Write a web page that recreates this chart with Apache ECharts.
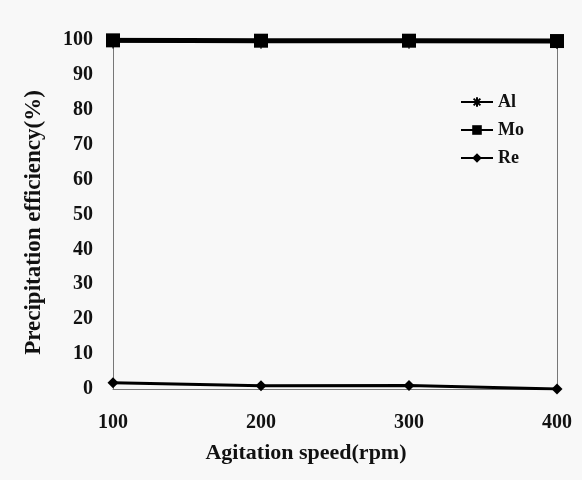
<!DOCTYPE html>
<html>
<head>
<meta charset="utf-8">
<script src="https://cdn.jsdelivr.net/npm/echarts@6/dist/echarts.min.js"></script>
<style>
  html, body { margin: 0; padding: 0; background: #f8f8f8; }
  #chart { width: 582px; height: 480px; }
</style>
</head>
<body>
<div id="chart"></div>
<script>
// Agitation speed (rpm) on the x axis
const speeds = [100, 200, 300, 400];
// Precipitation efficiency (%) per metal
const alValues = [99.6, 99.5, 99.5, 99.4];
const moValues = [99.9, 99.8, 99.8, 99.7];
const reValues = [1.8, 0.9, 1.0, 0.0];
const yTicks = [0, 10, 20, 30, 40, 50, 60, 70, 80, 90, 100];

const serif = '"Liberation Serif", "Times New Roman", serif';
const pairs = vals => speeds.map((s, i) => [s, vals[i]]);

// Asterisk marker outline for Al
const asterisk = 'path://M0,5 L10,5 M5,0 L5,10 M1.5,1.5 L8.5,8.5 M8.5,1.5 L1.5,8.5';

const chart = echarts.init(document.getElementById('chart'));
chart.setOption({
  backgroundColor: '#f8f8f8',
  animation: false,
  grid: { left: 113, right: 25, top: 40, bottom: 91 },
  legend: {
    orient: 'vertical',
    left: 455,
    top: 88,
    itemWidth: 32,
    itemHeight: 12,
    itemGap: 10,
    textStyle: { fontFamily: serif, fontWeight: 'bold', fontSize: 18, color: '#111' },
    data: ['Al', 'Mo', 'Re']
  },
  xAxis: {
    type: 'value',
    min: 100, max: 400, interval: 100,
    name: 'Agitation speed(rpm)',
    nameLocation: 'middle',
    nameGap: 53,
    nameTextStyle: {
      fontFamily: serif, fontWeight: 'bold', fontSize: 22, color: '#111',
      padding: [0, 58, 0, 0]
    },
    axisLine: { show: true, onZero: false, lineStyle: { color: '#777', width: 1 } },
    axisTick: { show: false },
    splitLine: { show: false },
    axisLabel: { margin: 24, fontFamily: serif, fontWeight: 'bold', fontSize: 20, color: '#111' }
  },
  yAxis: [{
    type: 'value',
    min: 0, max: 100, interval: 10,
    name: 'Precipitation efficiency(%)',
    nameLocation: 'middle',
    nameGap: 67,
    nameTextStyle: {
      fontFamily: serif, fontWeight: 'bold', fontSize: 23, color: '#111',
      padding: [0, 16, 0, 0]
    },
    axisLine: { show: true, lineStyle: { color: '#777', width: 1 } },
    axisTick: { show: false },
    splitLine: { show: false },
    axisLabel: {
      margin: 20, fontFamily: serif, fontWeight: 'bold', fontSize: 20, color: '#111',
      formatter: v => (yTicks.includes(v) ? String(v) : '')
    }
  }, {
    type: 'value',
    position: 'right',
    min: 0, max: 100,
    axisLine: { show: true, lineStyle: { color: '#777', width: 1 } },
    axisTick: { show: false },
    axisLabel: { show: false },
    splitLine: { show: false }
  }],
  series: [{
    name: 'Al',
    type: 'line',
    data: pairs(alValues),
    symbol: asterisk,
    symbolSize: 14,
    lineStyle: { color: '#000', width: 2 },
    itemStyle: { color: 'rgba(0,0,0,0)', borderColor: '#000', borderWidth: 1.2 },
    z: 2
  }, {
    name: 'Mo',
    type: 'line',
    data: pairs(moValues),
    symbol: 'rect',
    symbolSize: 14,
    lineStyle: { color: '#000', width: 5 },
    itemStyle: { color: '#000' },
    z: 3
  }, {
    name: 'Re',
    type: 'line',
    data: pairs(reValues),
    symbol: 'diamond',
    symbolSize: 11,
    lineStyle: { color: '#000', width: 3 },
    itemStyle: { color: '#000' },
    z: 3
  }]
});
</script>
</body>
</html>
